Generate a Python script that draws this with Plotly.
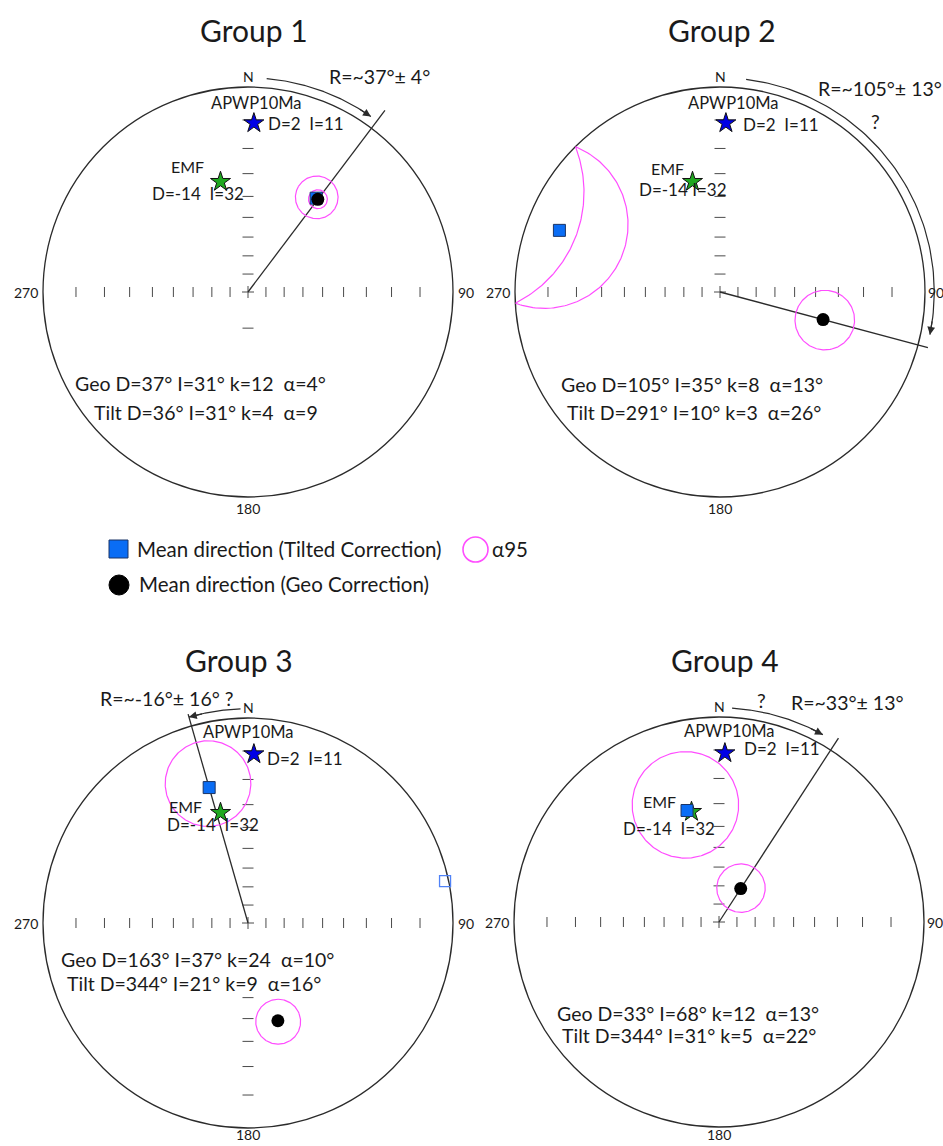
import numpy as np
import plotly.graph_objects as go

# ---------------- data ----------------
group_names = ["Group 1", "Group 2", "Group 3", "Group 4"]

# mean directions, geographic coordinates
geo_dec = [37, 105, 163, 33]
geo_inc = [31, 35, 37, 68]
geo_k = [12, 8, 24, 12]
geo_a95 = [4, 13, 10, 13]

# mean directions, tilt corrected
tilt_dec = [36, 291, 344, 344]
tilt_inc = [31, 10, 21, 31]
tilt_k = [4, 3, 9, 5]
tilt_a95 = [9, 26, 16, 22]

# vertical-axis rotation relative to the expected direction
rotation = [37, 105, -16, 33]
rotation_err = [4, 13, 16, 13]

# reference directions
apwp_dec, apwp_inc = 2, 11      # APWP 10 Ma
emf_dec, emf_inc = -14, 32      # EMF

# single upper-hemisphere direction in group 3
g3_upper_dec, g3_upper_inc = 78, -1

inc_ticks = [10, 20, 30, 40, 50, 60, 70, 80]
south_ticks = [[70], [], [10, 20, 30, 40, 50], []]

# ---------------- layout / style ----------------
W, H = 943, 1146
UNIT = 205                      # pixels per projection unit (primitive radius)
HALF_W, HALF_H = 220, 222
centres = [(248, 292), (720, 292), (248, 923), (719, 922)]

FONT = "Lato"
TXT = "#1a1a1a"
MAGENTA = "#ff4dff"
BLUE_SQ = "#0a6df5"

title_pos = [(254, 30), (722, 30), (239, 660), (725, 660)]
stats_geo_off = [(-48, 91), (-28, 92), (-51, 36), (-31, 91)]
stats_tilt_off = [(-42, 120), (-26, 120), (-54, 60), (-30, 113)]
apwp_name_off = [(3, -20), (8, -20), (-5, -22), (5, -22)]
apwp_val_off = [(12, 0), (15, 1), (11, 4), (17, -5)]
emf_name_off = [(-33, -15), (-25, -13), (-35, -6), (-32, -10)]
emf_val_off = [(-23, 12), (-10, 8), (-8, 12), (-23, 17)]
emf_sep = ["  ", " ", "  ", "  "]
rtext_off = [(131, -216, "center"), (96, -204, "left"), (-81, -225, "center"), (128, -220, "center")]
query_off = [None, (155, -170), None, (42, -222)]
rtext_suffix = ["", "", " ?", ""]
tilt_alpha_unit = ["", "°", "°", "°"]
east_label_gap = [3, 1, 3, 1]
arc_start = [5, 7, -2, 3.5]
arc_gap = [2, 3.5, 0, 4]
line_len = [1.11, 1.05, 1.06, 1.07]
ARC_R = 1.045


def stereo_r(inc):
    """Stereographic (Wulff) radius for an inclination, lower hemisphere."""
    return np.tan(np.radians(90 - np.abs(np.asarray(inc, float))) / 2)


def proj(dec, inc):
    r = stereo_r(inc)
    d = np.radians(np.asarray(dec, float))
    return r * np.sin(d), r * np.cos(d)


def cone(dec, inc, alpha, n=241):
    """Small circle of radius alpha around a direction, folded onto the lower hemisphere."""
    d, i, a = np.radians([dec, inc, alpha])
    m = np.array([np.cos(i) * np.cos(d), np.cos(i) * np.sin(d), np.sin(i)])
    u = np.cross(m, [0.0, 0.0, 1.0])
    if np.linalg.norm(u) < 1e-6:
        u = np.cross(m, [1.0, 0.0, 0.0])
    u /= np.linalg.norm(u)
    v = np.cross(m, u)
    t = np.linspace(0, 2 * np.pi, n)
    p = (np.cos(a) * m[:, None]
         + np.sin(a) * (np.cos(t) * u[:, None] + np.sin(t) * v[:, None]))
    inc_c = np.degrees(np.arcsin(np.clip(p[2], -1, 1)))
    dec_c = np.degrees(np.arctan2(p[1], p[0]))
    return proj(dec_c, inc_c)


fig = go.Figure()
annotations = []
shapes = []


def px(v):
    return v / UNIT


def note(xa, ya, x, y, text, size=15, xanchor="center", xshift=0, yshift=0):
    annotations.append(dict(
        xref=xa, yref=ya, x=x, y=y, text=text, showarrow=False,
        xanchor=xanchor, yanchor="middle", xshift=xshift, yshift=yshift,
        font=dict(family=FONT, size=size, color=TXT)))


def note_px(x, y, text, size=15, xanchor="center", yanchor="middle"):
    annotations.append(dict(
        xref="paper", yref="paper", x=x / W, y=1 - y / H, text=text, showarrow=False,
        xanchor=xanchor, yanchor=yanchor,
        font=dict(family=FONT, size=size, color=TXT)))


for k in range(4):
    cx, cy = centres[k]
    sfx = "" if k == 0 else str(k + 1)
    xa, ya = "x" + sfx, "y" + sfx
    fig.update_layout(**{
        "xaxis" + sfx: dict(domain=[(cx - HALF_W) / W, (cx + HALF_W) / W],
                            range=[-HALF_W / UNIT, HALF_W / UNIT], visible=False,
                            fixedrange=True, anchor=ya),
        "yaxis" + sfx: dict(domain=[(H - cy - HALF_H) / H, (H - cy + HALF_H) / H],
                            range=[-HALF_H / UNIT, HALF_H / UNIT], visible=False,
                            fixedrange=True, anchor=xa),
    })

    # primitive circle
    shapes.append(dict(type="circle", xref=xa, yref=ya, x0=-1, y0=-1, x1=1, y1=1,
                       line=dict(color="#2b2b2b", width=1.3), layer="below"))

    # inclination ticks along the E-W and N-S diameters
    tx, ty = [], []
    hv, hh = px(5), px(5.5)
    for inc in inc_ticks:
        r = float(stereo_r(inc))
        for s in (-1, 1):
            tx += [s * r, s * r, None]
            ty += [-hv, hv, None]
        tx += [-hh, hh, None]
        ty += [r, r, None]
    for inc in south_ticks[k]:
        r = float(stereo_r(inc))
        tx += [-hh, hh, None]
        ty += [-r, -r, None]
    c = px(6)
    tx += [-c, c, None, 0, 0, None]
    ty += [0, 0, None, -c, c, None]
    fig.add_trace(go.Scatter(x=tx, y=ty, xaxis=xa, yaxis=ya, mode="lines",
                             line=dict(color="#4a4a4a", width=1), hoverinfo="skip"))

    # rotation line through the centre
    rr = np.radians(rotation[k])
    fig.add_trace(go.Scatter(x=[0, line_len[k] * np.sin(rr)], y=[0, line_len[k] * np.cos(rr)],
                             xaxis=xa, yaxis=ya, mode="lines",
                             line=dict(color="#2b2b2b", width=1.3), hoverinfo="skip"))

    # rotation arc with arrow head
    sign = 1 if rotation[k] >= 0 else -1
    a_end = rotation[k] - sign * arc_gap[k]
    t = np.radians(np.linspace(arc_start[k], a_end, 80))
    fig.add_trace(go.Scatter(x=ARC_R * np.sin(t), y=ARC_R * np.cos(t), xaxis=xa, yaxis=ya,
                             mode="lines", line=dict(color="#2b2b2b", width=1.2),
                             hoverinfo="skip"))
    te = np.radians(a_end)
    tb = np.radians(a_end - sign * 4)
    annotations.append(dict(xref=xa, yref=ya, axref=xa, ayref=ya,
                            x=ARC_R * np.sin(te), y=ARC_R * np.cos(te),
                            ax=ARC_R * np.sin(tb), ay=ARC_R * np.cos(tb),
                            text="", showarrow=True, arrowhead=2, arrowsize=1.3,
                            arrowwidth=1.2, arrowcolor="#2b2b2b", standoff=0))

    # alpha95 cones
    for dd, ii, aa in ((tilt_dec[k], tilt_inc[k], tilt_a95[k]),
                       (geo_dec[k], geo_inc[k], geo_a95[k])):
        cxs, cys = cone(dd, ii, aa)
        fig.add_trace(go.Scatter(x=cxs, y=cys, xaxis=xa, yaxis=ya, mode="lines",
                                 line=dict(color=MAGENTA, width=1.2), hoverinfo="skip"))

    # reference directions
    ax_, ay_ = proj(apwp_dec, apwp_inc)
    ex_, ey_ = proj(emf_dec, emf_inc)
    fig.add_trace(go.Scatter(x=[ax_], y=[ay_], xaxis=xa, yaxis=ya, mode="markers",
                             marker=dict(symbol="star", size=15, color="#0000e6",
                                         line=dict(color="#111", width=1)),
                             cliponaxis=False, name="APWP10Ma"))
    fig.add_trace(go.Scatter(x=[ex_], y=[ey_], xaxis=xa, yaxis=ya, mode="markers",
                             marker=dict(symbol="star", size=15, color="#1fa81f",
                                         line=dict(color="#111", width=1)),
                             cliponaxis=False, name="EMF"))

    # mean directions
    sx, sy = proj(tilt_dec[k], tilt_inc[k])
    gx, gy = proj(geo_dec[k], geo_inc[k])
    fig.add_trace(go.Scatter(x=[sx], y=[sy], xaxis=xa, yaxis=ya, mode="markers",
                             marker=dict(symbol="square", size=12, color=BLUE_SQ,
                                         line=dict(color="#1b3566", width=1)),
                             cliponaxis=False, name="Tilt"))
    fig.add_trace(go.Scatter(x=[gx], y=[gy], xaxis=xa, yaxis=ya, mode="markers",
                             marker=dict(symbol="circle", size=13, color="black"),
                             cliponaxis=False, name="Geo"))
    if k == 2:
        ux, uy = proj(g3_upper_dec, g3_upper_inc)
        fig.add_trace(go.Scatter(x=[ux], y=[uy], xaxis=xa, yaxis=ya, mode="markers",
                                 marker=dict(symbol="square-open", size=11, color="#4f82f7",
                                             line=dict(width=1.3)),
                                 cliponaxis=False, name="upper"))

    # ---- text ----
    note_px(title_pos[k][0], title_pos[k][1], group_names[k], size=30)
    note_px(cx, cy - 216, "N", size=14)
    note_px(cx - 208, cy, "270", size=14, xanchor="right")
    note_px(cx + 205 + east_label_gap[k], cy, "90", size=14, xanchor="left")
    if cy + 226 > H:
        note_px(cx, H - 1, "180", size=14, yanchor="bottom")
    else:
        note_px(cx, cy + 216, "180", size=14)

    ro = rtext_off[k]
    note_px(cx + ro[0], cy + ro[1],
            f"R=~{rotation[k]}°± {rotation_err[k]}°{rtext_suffix[k]}", size=19.5, xanchor=ro[2])
    if query_off[k] is not None:
        note_px(cx + query_off[k][0], cy + query_off[k][1], "?", size=19.5)

    note(xa, ya, float(ax_), float(ay_), "APWP10Ma", size=16.5,
         xshift=apwp_name_off[k][0], yshift=-apwp_name_off[k][1])
    note(xa, ya, float(ax_), float(ay_), f"D={apwp_dec}  I={apwp_inc}", size=17,
         xanchor="left", xshift=apwp_val_off[k][0], yshift=-apwp_val_off[k][1])
    note(xa, ya, float(ex_), float(ey_), "EMF", size=16,
         xshift=emf_name_off[k][0], yshift=-emf_name_off[k][1])
    note(xa, ya, float(ex_), float(ey_), f"D={emf_dec}{emf_sep[k]}I={emf_inc}", size=17,
         xshift=emf_val_off[k][0], yshift=-emf_val_off[k][1])

    note_px(cx + stats_geo_off[k][0], cy + stats_geo_off[k][1],
            f"Geo D={geo_dec[k]}° I={geo_inc[k]}° k={geo_k[k]}  α={geo_a95[k]}°", size=19.5)
    note_px(cx + stats_tilt_off[k][0], cy + stats_tilt_off[k][1],
            f"Tilt D={tilt_dec[k]}° I={tilt_inc[k]}° k={tilt_k[k]}  α={tilt_a95[k]}{tilt_alpha_unit[k]}",
            size=19.5)


# ---- key ----
def pxp(x, y):
    return x / W, 1 - y / H


x0, y0 = pxp(109, 540)
x1, y1 = pxp(128, 558)
shapes.append(dict(type="rect", xref="paper", yref="paper", x0=x0, y0=y0, x1=x1, y1=y1,
                   fillcolor=BLUE_SQ, line=dict(color="#1b3566", width=1)))
x0, y0 = pxp(109, 575)
x1, y1 = pxp(129, 595)
shapes.append(dict(type="circle", xref="paper", yref="paper", x0=x0, y0=y0, x1=x1, y1=y1,
                   fillcolor="black", line=dict(color="black", width=1)))
x0, y0 = pxp(463, 537)
x1, y1 = pxp(488, 562)
shapes.append(dict(type="circle", xref="paper", yref="paper", x0=x0, y0=y0, x1=x1, y1=y1,
                   line=dict(color=MAGENTA, width=1.6)))
note_px(135, 549, "Mean direction (Tilted Correction)", size=20.5, xanchor="left")
note_px(137, 584, "Mean direction (Geo Correction)", size=20.5, xanchor="left")
note_px(490, 549, "α95", size=20.5, xanchor="left")

fig.update_layout(width=W, height=H, margin=dict(l=0, r=0, t=0, b=0),
                  paper_bgcolor="white", plot_bgcolor="rgba(0,0,0,0)",
                  showlegend=False, annotations=annotations, shapes=shapes)

fig.write_html("out.html")
